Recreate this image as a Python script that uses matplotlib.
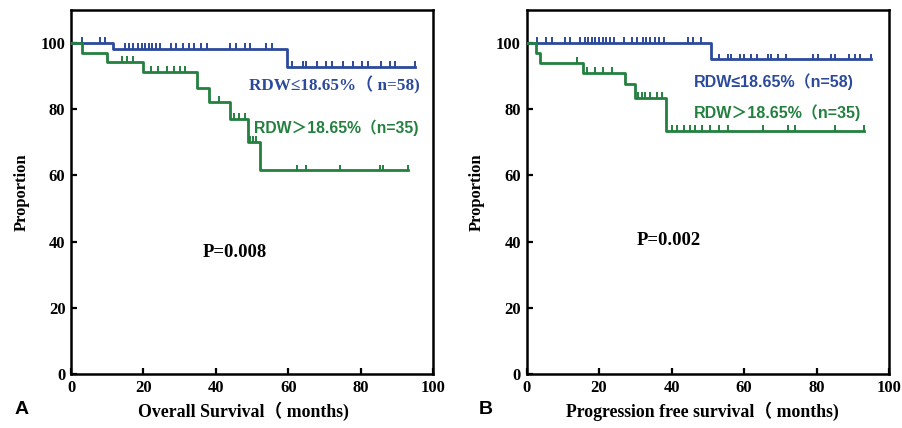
import matplotlib
matplotlib.use("Agg")
import matplotlib.pyplot as plt
import numpy as np

# ---------------- Data ----------------
# Panel A: Overall survival
a_blue_times = [0, 11.7, 59.8]
a_blue_surv = [100, 98.3, 92.8]
a_blue_end = 95
a_blue_cens_t = [3, 8, 9.5,
                 15, 16, 17, 18.5, 19.5, 20.5, 21.5, 22.5, 23.5, 24.5, 27.5, 29, 31, 32.5, 34, 36, 37.5,
                 44, 45.5, 48, 49.5, 54, 55.5,
                 61, 64, 65, 68, 70.5, 72, 75, 78, 80.5, 82, 85.5, 88, 89.5, 95]

a_green_times = [0, 3, 10, 19.8, 34.7, 38, 44, 48.8, 52.2]
a_green_surv = [100, 97.1, 94.3, 91.4, 86.5, 82.2, 77.2, 70.2, 61.6]
a_green_end = 93
a_green_cens_t = [14, 15.5, 17, 22, 24, 26.5, 28.5, 30, 31.5, 41, 45, 46.5, 48,
                  49.5, 50.3, 51.2, 62.3, 65, 74.3, 85.3, 86.3, 93]

# Panel B: Progression free survival
b_blue_times = [0, 51]
b_blue_surv = [100, 95.1]
b_blue_end = 95
b_blue_cens_t = [3, 5.5, 7, 10.5, 12, 14.8, 16, 17, 18, 19, 20, 21, 22, 23, 24, 27, 29, 30.5, 32, 33,
                 34, 35.5, 36.5, 38, 44.5, 46, 48,
                 53, 55.5, 56.5, 59, 60, 62, 63.5, 66.5, 67.5, 69.5, 71.5, 79, 80.5, 84, 85, 89, 90.5, 92, 95]

b_green_times = [0, 2.7, 3.8, 15.7, 27.2, 30, 38.6]
b_green_surv = [100, 97.1, 94.1, 91.1, 87.5, 83.5, 73.5]
b_green_end = 93
b_green_cens_t = [13.8, 16.6, 19, 21, 23.5, 30.8, 31.8, 32.7, 34, 36, 37.3,
                  40, 41.5, 43.5, 45, 46.5, 48.3, 50.6, 53, 55.7, 65.3, 72.2, 74.1, 85.1, 93]

x_ticks = [0, 20, 40, 60, 80, 100]
y_ticks = [0, 20, 40, 60, 80, 100]

BLUE = "#2c4a9c"
GREEN = "#23803f"
SERIF = ["Liberation Serif", "Noto Sans CJK SC"]
SANS = ["Liberation Sans", "Noto Sans CJK SC"]


def level_at(times, surv, t):
    idx = np.searchsorted(np.asarray(times), t, side="right") - 1
    return np.asarray(surv)[idx]


def km(ax, times, surv, end, cens, color):
    xs = list(times) + [end]
    ys = list(surv) + [surv[-1]]
    ax.step(xs, ys, where="post", color=color, lw=2.0, zorder=3)
    ct = np.asarray(cens, dtype=float)
    lv = level_at(times, surv, ct)
    ax.vlines(ct, lv, lv + 1.7, color=color, lw=1.4, zorder=3)


def style(ax, xlabel, xlab_x):
    ax.set_xlim(0, 100)
    ax.set_ylim(0, 110)
    ax.set_xticks(x_ticks)
    ax.set_yticks(y_ticks)
    ax.tick_params(direction="in", length=4, width=1.6, labelsize=12, pad=4)
    for lab in ax.get_xticklabels() + ax.get_yticklabels():
        lab.set_family(SERIF)
        lab.set_fontweight("bold")
    for s in ax.spines.values():
        s.set_linewidth(1.8)
    ax.set_ylabel("Proportion", family=SERIF, fontweight="bold", fontsize=12, labelpad=8)
    ax.set_xlabel(xlabel, family=SERIF, fontweight="bold", fontsize=12.8)
    ax.xaxis.set_label_coords(xlab_x, -0.076)


fig = plt.figure(figsize=(9.02, 4.28), dpi=100)
axA = fig.add_axes([71 / 902, 1 - 374 / 428, 362 / 902, 364 / 428])
axB = fig.add_axes([526.5 / 902, 1 - 374 / 428, 362.5 / 902, 364 / 428])

km(axA, a_blue_times, a_blue_surv, a_blue_end, a_blue_cens_t, BLUE)
km(axA, a_green_times, a_green_surv, a_green_end, a_green_cens_t, GREEN)
km(axB, b_blue_times, b_blue_surv, b_blue_end, b_blue_cens_t, BLUE)
km(axB, b_green_times, b_green_surv, b_green_end, b_green_cens_t, GREEN)

style(axA, "Overall Survival（ months)", 0.475)
style(axB, "Progression free survival（ months)", 0.485)

# Panel A annotations
axA.text(49.2, 87.2, "RDW≤18.65%（ n=58)", color=BLUE, family=SERIF, fontweight="bold",
         fontsize=12.3, ha="left", va="center")
axA.text(50.6, 74.3, "RDW＞18.65%（n=35)", color=GREEN, family=SANS, fontweight="bold",
         fontsize=11.3, ha="left", va="center")
axA.text(45.2, 36.8, "P=0.008", family=SERIF, fontweight="bold", fontsize=13.5,
         ha="center", va="center")

# Panel B annotations
axB.text(46.3, 88.5, "RDW≤18.65%（n=58)", color=BLUE, family=SANS, fontweight="bold",
         fontsize=11.5, ha="left", va="center")
axB.text(46.3, 79, "RDW＞18.65%（n=35)", color=GREEN, family=SANS, fontweight="bold",
         fontsize=11.5, ha="left", va="center")
axB.text(39.3, 40.2, "P=0.002", family=SERIF, fontweight="bold", fontsize=13.5,
         ha="center", va="center")

fig.text(15 / 902, 1 - 410 / 428, "A", family=SANS, fontweight="bold", fontsize=14,
         ha="left", va="center")
fig.text(479 / 902, 1 - 410 / 428, "B", family=SANS, fontweight="bold", fontsize=14,
         ha="left", va="center")

fig.savefig("out.png", dpi=100)
